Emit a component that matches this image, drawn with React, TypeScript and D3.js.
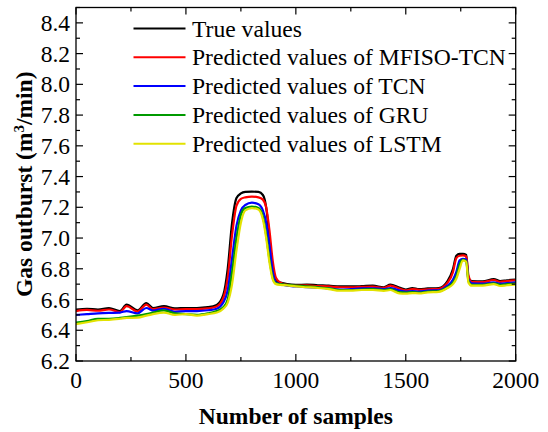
import React from "react";
import * as d3 from "d3";

// Sample positions shared by all series
const samples = [
  0, 50, 100, 150, 200, 230, 280, 320, 350, 400, 450, 500, 550, 600, 640,
  670, 690, 710, 730, 750, 770, 800, 830, 850, 865, 880, 895, 910, 930, 960,
  1000, 1050, 1100, 1150, 1200, 1250, 1300, 1350, 1400, 1430, 1470, 1500, 1530, 1560, 1600,
  1650, 1690, 1715, 1730, 1745, 1760, 1775, 1785, 1800, 1850, 1900, 1930, 1960, 2000,
];

const trueValues = [
  6.535, 6.54, 6.535, 6.545, 6.525, 6.567, 6.53, 6.577, 6.545, 6.557, 6.542, 6.545, 6.545, 6.55, 6.565,
  6.63, 6.8, 7.1, 7.26, 7.29, 7.3, 7.302, 7.3, 7.28, 7.2, 7.0, 6.8, 6.72, 6.71, 6.7,
  6.695, 6.697, 6.693, 6.69, 6.685, 6.685, 6.687, 6.69, 6.68, 6.697, 6.678, 6.665, 6.675, 6.668, 6.672,
  6.675, 6.72, 6.8, 6.885, 6.897, 6.897, 6.89, 6.74, 6.72, 6.718, 6.733, 6.72, 6.725, 6.73,
];

const mfisoTcn = [
  6.525, 6.532, 6.527, 6.535, 6.518, 6.557, 6.522, 6.567, 6.537, 6.548, 6.535, 6.538, 6.537, 6.542, 6.555,
  6.61, 6.74, 7.02, 7.21, 7.255, 7.265, 7.27, 7.265, 7.25, 7.2, 7.05, 6.85, 6.74, 6.71, 6.695,
  6.69, 6.692, 6.688, 6.685, 6.68, 6.68, 6.682, 6.684, 6.676, 6.69, 6.672, 6.66, 6.668, 6.663, 6.667,
  6.67, 6.71, 6.78, 6.87, 6.885, 6.887, 6.88, 6.76, 6.715, 6.713, 6.727, 6.715, 6.72, 6.725,
];

const tcn = [
  6.5, 6.505, 6.51, 6.513, 6.515, 6.525, 6.51, 6.545, 6.528, 6.54, 6.52, 6.525, 6.525, 6.53, 6.54,
  6.58, 6.66, 6.87, 7.08, 7.18, 7.215, 7.23, 7.22, 7.18, 7.1, 6.95, 6.78, 6.71, 6.7, 6.69,
  6.685, 6.68, 6.678, 6.672, 6.665, 6.668, 6.672, 6.673, 6.668, 6.675, 6.66, 6.652, 6.655, 6.652, 6.658,
  6.66, 6.69, 6.73, 6.78, 6.855, 6.865, 6.86, 6.73, 6.705, 6.703, 6.712, 6.703, 6.707, 6.712,
];

const gru = [
  6.45, 6.46, 6.475, 6.475, 6.48, 6.485, 6.495, 6.505, 6.515, 6.53, 6.51, 6.505, 6.5, 6.51, 6.525,
  6.55, 6.6, 6.78, 7.0, 7.15, 7.195, 7.205, 7.195, 7.14, 7.02, 6.86, 6.74, 6.705, 6.7, 6.695,
  6.69, 6.685, 6.68, 6.672, 6.662, 6.662, 6.665, 6.667, 6.662, 6.668, 6.648, 6.645, 6.648, 6.645, 6.652,
  6.655, 6.68, 6.71, 6.75, 6.83, 6.858, 6.85, 6.72, 6.695, 6.695, 6.705, 6.695, 6.7, 6.703,
];

const lstm = [
  6.44, 6.452, 6.465, 6.468, 6.475, 6.48, 6.482, 6.495, 6.505, 6.515, 6.5, 6.505, 6.495, 6.505, 6.515,
  6.54, 6.58, 6.7, 6.92, 7.1, 7.18, 7.195, 7.185, 7.12, 7.0, 6.84, 6.73, 6.7, 6.695, 6.692,
  6.685, 6.68, 6.675, 6.668, 6.657, 6.658, 6.662, 6.662, 6.656, 6.662, 6.64, 6.638, 6.642, 6.64, 6.647,
  6.65, 6.675, 6.7, 6.735, 6.8, 6.855, 6.845, 6.71, 6.69, 6.69, 6.7, 6.688, 6.693, 6.697,
];

const seriesNames = [
  "True values",
  "Predicted values of MFISO-TCN",
  "Predicted values of TCN",
  "Predicted values of GRU",
  "Predicted values of LSTM",
];
const seriesValues = [trueValues, mfisoTcn, tcn, gru, lstm];
const seriesColors = ["#000000", "#ff0000", "#0000ff", "#009a00", "#e2e200"];

const xTicks = [0, 500, 1000, 1500, 2000];
const yTicks = [6.2, 6.4, 6.6, 6.8, 7.0, 7.2, 7.4, 7.6, 7.8, 8.0, 8.2, 8.4];

const W = 548;
const H = 432;
const plot = { left: 76, right: 515.7, top: 7.5, bottom: 361 };
const FONT = "Liberation Serif, Times New Roman, serif";

export default function App() {
  const x = d3.scaleLinear().domain([0, 2000]).range([plot.left, plot.right]);
  const y = d3.scaleLinear().domain([6.2, 8.5]).range([plot.bottom, plot.top]);

  const line = d3
    .line<number>()
    .x((_, i) => x(samples[i]))
    .y((v) => y(v))
    .curve(d3.curveMonotoneX);

  const xMinor = d3.range(0, 2001, 250);
  const yMinor = d3.range(62, 86, 1).map((v) => v / 10);

  const major = 7;
  const minor = 4;
  const txt = { fontFamily: FONT, fill: "#000" } as const;

  return (
    <svg
      width={W}
      height={H}
      style={{ position: "absolute", left: 0, top: 0, background: "#fff" }}
    >
      <defs>
        <clipPath id="plot-clip">
          <rect x={plot.left} y={plot.top} width={plot.right - plot.left} height={plot.bottom - plot.top} />
        </clipPath>
      </defs>

      {/* series */}
      <g clipPath="url(#plot-clip)">
        {seriesValues.map((vals, k) => (
          <path
            key={k}
            d={line(vals) ?? ""}
            fill="none"
            stroke={seriesColors[k]}
            strokeWidth={2.2}
            strokeLinejoin="round"
          />
        ))}
      </g>

      {/* frame */}
      <rect
        x={plot.left}
        y={plot.top}
        width={plot.right - plot.left}
        height={plot.bottom - plot.top}
        fill="none"
        stroke="#000"
        strokeWidth={1.3}
      />

      {/* x ticks, mirrored on the top edge */}
      {xMinor.map((t) => {
        const len = t % 500 === 0 ? major : minor;
        return (
          <g key={"xt" + t} stroke="#000" strokeWidth={1.2}>
            <line x1={x(t)} x2={x(t)} y1={plot.bottom} y2={plot.bottom - len} />
            <line x1={x(t)} x2={x(t)} y1={plot.top} y2={plot.top + len} />
          </g>
        );
      })}
      {/* y ticks, mirrored on the right edge */}
      {yMinor.map((t) => {
        const isMajor = Math.round(t * 10) % 2 === 0;
        const len = isMajor ? major : minor;
        return (
          <g key={"yt" + t} stroke="#000" strokeWidth={1.2}>
            <line x1={plot.left} x2={plot.left + len} y1={y(t)} y2={y(t)} />
            <line x1={plot.right} x2={plot.right - len} y1={y(t)} y2={y(t)} />
          </g>
        );
      })}

      {xTicks.map((t) => (
        <text key={"xl" + t} {...txt} x={x(t)} y={plot.bottom + 27} fontSize={23.5} textAnchor="middle">
          {t}
        </text>
      ))}
      {yTicks.map((t) => (
        <text key={"yl" + t} {...txt} x={plot.left - 6} y={y(t) + 8} fontSize={23.5} textAnchor="end">
          {t.toFixed(1)}
        </text>
      ))}

      {/* axis titles */}
      <text
        {...txt}
        x={(plot.left + plot.right) / 2}
        y={424}
        fontSize={23.5}
        fontWeight="bold"
        textAnchor="middle"
      >
        Number of samples
      </text>
      <text
        {...txt}
        transform={`translate(32, ${(plot.top + plot.bottom) / 2}) rotate(-90)`}
        fontSize={23.5}
        fontWeight="bold"
        textAnchor="middle"
      >
        Gas outburst (m
        <tspan dy={-8} fontSize={15}>3</tspan>
        <tspan dy={8}>/min)</tspan>
      </text>

      {/* legend */}
      {seriesNames.map((name, k) => {
        const ly = 28.5 + k * 28.8;
        return (
          <g key={"lg" + k}>
            <line x1={133.5} x2={185.5} y1={ly} y2={ly} stroke={seriesColors[k]} strokeWidth={2} />
            <text {...txt} x={192} y={ly + 8} fontSize={23.6}>
              {name}
            </text>
          </g>
        );
      })}
    </svg>
  );
}
